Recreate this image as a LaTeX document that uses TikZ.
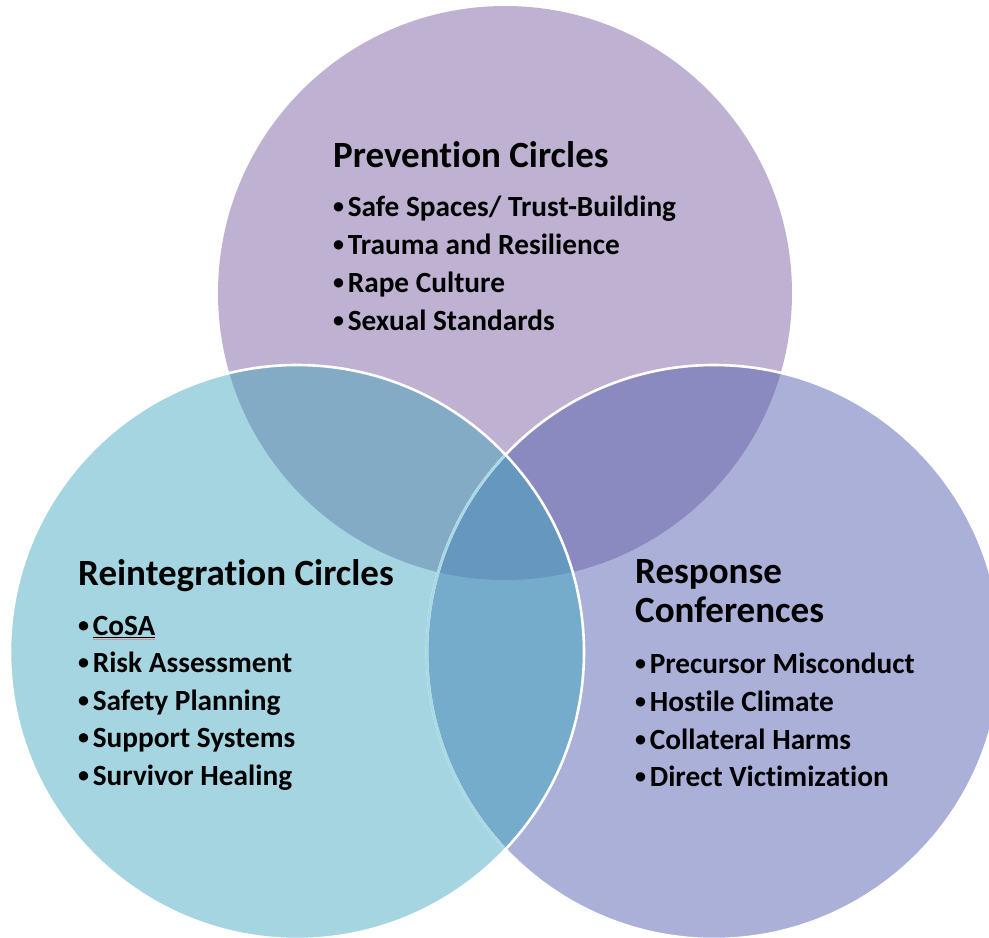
\documentclass[tikz,border=0pt]{standalone}
\usepackage{fontspec}
\setmainfont{Carlito}[RawFeature={-liga;-clig;-calt;-dlig}]
\definecolor{topc}{HTML}{BFB1D1}
\definecolor{leftc}{HTML}{A4D5E1}
\definecolor{rightc}{HTML}{AAB0D8}
\definecolor{tlc}{HTML}{84ABC6}
\definecolor{trc}{HTML}{8A8AC0}
\definecolor{lrc}{HTML}{76ACCB}
\definecolor{allc}{HTML}{6698BF}
\definecolor{tintline}{HTML}{A8D9E5}
\definecolor{spellc}{HTML}{E08A9A}
% underlined word with a faint check mark below it
\newcommand\ulword[1]{\setbox0\hbox{#1}%
  \rlap{\color{spellc}\rule[-5.2pt]{\wd0}{0.9pt}}%
  \rlap{\rule[-3.4pt]{\wd0}{1.5pt}}#1}
% small list bullet in the width of a full-size one
\newcommand\bul{\setbox0\hbox{•}%
  \makebox[\wd0][l]{\raisebox{2.2pt}{\fontsize{22}{22}\selectfont•}}}
\begin{document}
\begin{tikzpicture}[x=1pt,y=-1pt,
  title/.style={anchor=base west, inner sep=0pt, font=\fontsize{37}{40}\selectfont\bfseries},
  item/.style={anchor=base west, inner sep=0pt, font=\fontsize{29.3}{32}\selectfont\bfseries},
  rim/.style={line width=2.6pt}]
\useasboundingbox (0,0) rectangle (989,938);
\def\R{287pt}
\coordinate (ct) at (505,293);
\coordinate (cl) at (297,652);
\coordinate (cr) at (714,652);

% base discs
\fill[topc] (ct) circle[radius=\R];
\fill[rightc] (cr) circle[radius=\R];
\fill[leftc] (cl) circle[radius=\R];

% pairwise and triple overlaps
\begin{scope}
  \clip (ct) circle[radius=\R];
  \fill[tlc] (cl) circle[radius=\R];
  \fill[trc] (cr) circle[radius=\R];
\end{scope}
\begin{scope}
  \clip (cl) circle[radius=\R];
  \fill[lrc] (cr) circle[radius=\R];
  \begin{scope}
    \clip (ct) circle[radius=\R];
    \fill[allc] (cr) circle[radius=\R];
  \end{scope}
\end{scope}

% rims
\draw[rim, white] (cr) circle[radius=\R];
\begin{scope}
  \clip (cl) circle[radius=\R];
  \draw[rim, tintline] (cr) circle[radius=\R];
\end{scope}
\draw[rim, white] (cl) circle[radius=\R];

% Prevention Circles
\node[title] (ptitle) at (333,167) {Prevention Circles};
\node[item] (p1) at (333,216) {\bul Safe Spaces/ Trust-Building};
\node[item] (p2) at (333,254) {\bul Trauma and Resilience};
\node[item] (p3) at (333,292) {\bul Rape Culture};
\node[item] (p4) at (333,330) {\bul Sexual Standards};

% Reintegration Circles
\node[title] (ltitle) at (78,585) {Reintegration Circles};
\node[item] (l1) at (78,635) {\bul\ulword{CoSA}};
\node[item] (l2) at (78,672) {\bul Risk Assessment};
\node[item] (l3) at (78,710) {\bul Safety Planning};
\node[item] (l4) at (78,747) {\bul Support Systems};
\node[item] (l5) at (78,785) {\bul Survivor Healing};

% Response Conferences
\node[title] (rtitle1) at (635,583) {Response};
\node[title] (rtitle2) at (635,622) {Conferences};
\node[item] (r1) at (635,673) {\bul Precursor Misconduct};
\node[item] (r2) at (635,711) {\bul Hostile Climate};
\node[item] (r3) at (635,749) {\bul Collateral Harms};
\node[item] (r4) at (635,786) {\bul Direct Victimization};
\end{tikzpicture}
\end{document}
